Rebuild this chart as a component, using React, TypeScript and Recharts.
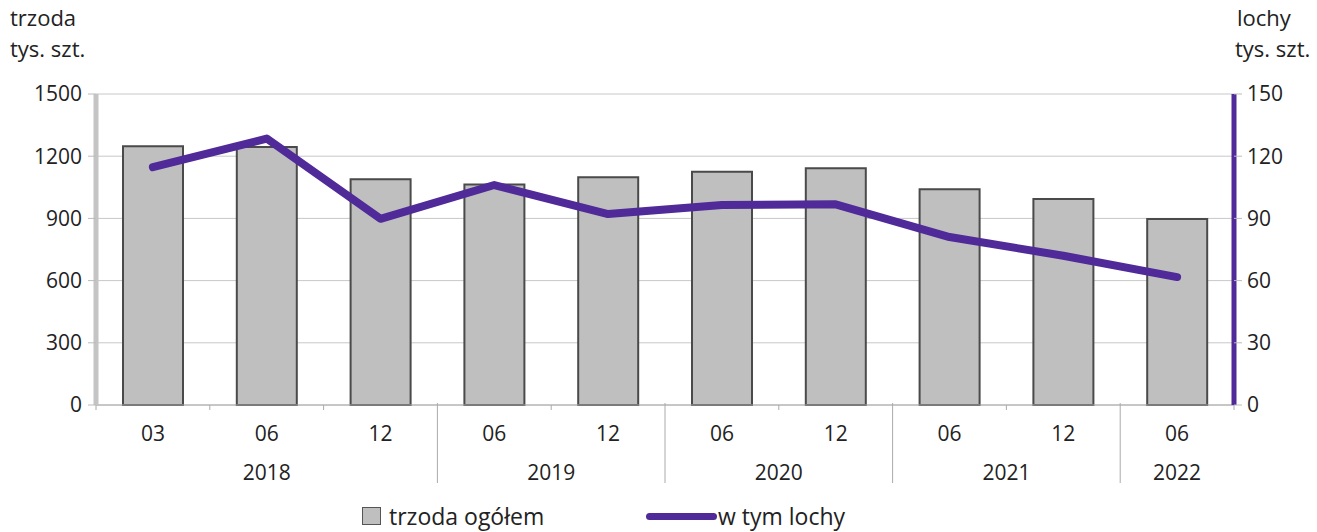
import { ComposedChart, Bar, Line, XAxis, YAxis, CartesianGrid, Legend } from 'recharts';

const MONTHS = ['03', '06', '12', '06', '12', '06', '12', '06', '12', '06'];
const YEARS = ['2018', '2018', '2018', '2019', '2019', '2020', '2020', '2021', '2021', '2022'];
const TRZODA = [1248, 1244, 1089, 1064, 1098, 1125, 1142, 1040, 993, 897];
const LOCHY = [114.7, 128.5, 89.8, 106.1, 92.1, 96.5, 96.8, 81.0, 72.0, 61.7];
const LEFT_TICKS = [0, 300, 600, 900, 1200, 1500];
const RIGHT_TICKS = [0, 30, 60, 90, 120, 150];

const W = 1317;
const H = 532;
const LEFT_W = 96;
const RIGHT_W = 83;
const BAND = (W - LEFT_W - RIGHT_W) / MONTHS.length;

const PURPLE = '#4f2a98';
const TEXT = '#222';
const FONT = '"Open Sans", sans-serif';

const data = MONTHS.map((m, i) => ({
  key: `${YEARS[i]}-${m}-${i}`,
  month: m,
  year: YEARS[i],
  trzoda: TRZODA[i],
  lochy: LOCHY[i],
}));

// two-level category axis: month labels, year labels, separators between years
function MonthYearTick({ x, y, index }: any) {
  const year = YEARS[index];
  const first = index === 0 || YEARS[index - 1] !== year;
  const groupSize = YEARS.filter((v) => v === year).length;
  const left = x - BAND / 2;
  const longSep = first && index !== 0;
  return (
    <g>
      <line x1={left} x2={left} y1={longSep ? y - 2 : y} y2={longSep ? y + 78 : y + 5} stroke="#aaa" strokeWidth={1} />
      {index === MONTHS.length - 1 && (
        <line x1={x + BAND / 2} x2={x + BAND / 2} y1={y} y2={y + 5} stroke="#aaa" strokeWidth={1} />
      )}
      <text x={x} y={y + 36} textAnchor="middle" fontSize={21} fill={TEXT} fontFamily={FONT}>
        {MONTHS[index]}
      </text>
      {first && (
        <text
          x={x + ((groupSize - 1) * BAND) / 2}
          y={y + 75}
          textAnchor="middle"
          fontSize={21}
          fill={TEXT}
          fontFamily={FONT}
        >
          {year}
        </text>
      )}
    </g>
  );
}

function renderLegend() {
  return (
    <div style={{ position: 'relative', width: W, height: 34, fontFamily: FONT, fontSize: 23, color: TEXT }}>
      <div style={{ position: 'absolute', left: 362, top: 8, display: 'flex', alignItems: 'center' }}>
        <div style={{ width: 17, height: 16, background: '#bfbfbf', border: '1.5px solid #555' }} />
        <span style={{ marginLeft: 8, lineHeight: '20px' }}>trzoda ogółem</span>
      </div>
      <div style={{ position: 'absolute', left: 646, top: 8, display: 'flex', alignItems: 'center' }}>
        <div style={{ width: 71, height: 7, background: PURPLE, borderRadius: 4 }} />
        <span style={{ marginLeft: 1, lineHeight: '20px' }}>w tym lochy</span>
      </div>
    </div>
  );
}

export default function App() {
  return (
    <div style={{ position: 'absolute', left: 0, top: 0, width: W, height: H, background: '#fff' }}>
      <ComposedChart
        width={W}
        height={H}
        data={data}
        margin={{ top: 94, right: 0, bottom: 13, left: 0 }}
        barCategoryGap={0}
      >
        <CartesianGrid vertical={false} stroke="#c8c8c8" yAxisId="left" />
        <XAxis
          dataKey="key"
          axisLine={{ stroke: '#aaa' }}
          tickLine={false}
          tickSize={0}
          tickMargin={0}
          height={80}
          interval={0}
          tick={<MonthYearTick />}
        />
        <YAxis
          yAxisId="left"
          width={LEFT_W}
          domain={[0, 1500]}
          ticks={LEFT_TICKS}
          axisLine={{ stroke: '#c4c4c4', strokeWidth: 5 }}
          tickLine={{ stroke: '#bbb' }}
          tickSize={8}
          tickMargin={6}
          tick={{ fontSize: 21, fill: TEXT, fontFamily: FONT }}
          label={{
            content: () => (
              <g fontFamily={FONT} fontSize={22} fill={TEXT}>
                <text x={10} y={26}>trzoda</text>
                <text x={10} y={57}>tys. szt.</text>
              </g>
            ),
          }}
        />
        <YAxis
          yAxisId="right"
          orientation="right"
          width={RIGHT_W}
          domain={[0, 150]}
          ticks={RIGHT_TICKS}
          axisLine={{ stroke: PURPLE, strokeWidth: 5 }}
          tickLine={{ stroke: '#bbb' }}
          tickSize={8}
          tickMargin={5}
          tick={{ fontSize: 21, fill: TEXT, fontFamily: FONT }}
          label={{
            content: () => (
              <g fontFamily={FONT} fontSize={22} fill={TEXT}>
                <text x={1237} y={26}>lochy</text>
                <text x={1235} y={57}>tys. szt.</text>
              </g>
            ),
          }}
        />
        <Legend verticalAlign="bottom" content={renderLegend} wrapperStyle={{ left: 0, top: 498, width: W, height: 34 }} />
        <Bar
          yAxisId="left"
          dataKey="trzoda"
          name="trzoda ogółem"
          barSize={60}
          fill="#bfbfbf"
          stroke="#4a4a4a"
          strokeWidth={2}
          isAnimationActive={false}
        />
        <Line
          yAxisId="right"
          dataKey="lochy"
          name="w tym lochy"
          type="linear"
          stroke={PURPLE}
          strokeWidth={8}
          strokeLinecap="round"
          strokeLinejoin="round"
          dot={false}
          activeDot={false}
          isAnimationActive={false}
        />
      </ComposedChart>
    </div>
  );
}
